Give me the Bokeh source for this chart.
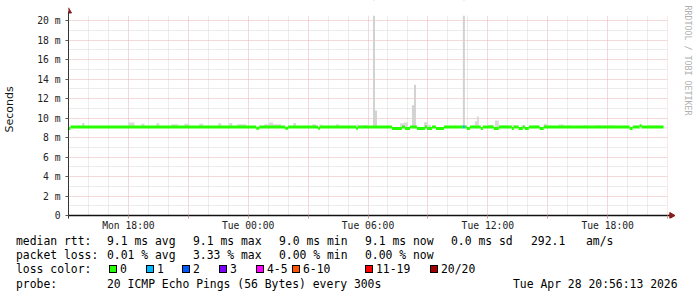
import math
from bokeh.plotting import figure
from bokeh.layouts import column
from bokeh.models import FixedTicker, Range1d, ColumnDataSource, Div
from bokeh.core.properties import value
from bokeh.embed import file_html
from bokeh.resources import INLINE

# ---------------- data (time in hours since Mon 00:00, rtt in ms) ----------------
x_start, x_end = 15.0, 45.0     # graphed period (Mon 15:00 .. Tue 21:00)
y_top = 20.5                    # upper limit of the graph (ms)

y_ticks = [0, 2, 4, 6, 8, 10, 12, 14, 16, 18, 20]
y_minor = [1, 3, 5, 7, 9, 11, 13, 15, 17, 19]
y_tick_labels = ["0", "2 m", "4 m", "6 m", "8 m", "10 m", "12 m", "14 m", "16 m", "18 m", "20 m"]

x_major = [15, 18, 21, 24, 27, 30, 33, 36, 39, 42, 45]
x_minor = [16, 17, 19, 20, 22, 23, 25, 26, 28, 29, 31, 32, 34, 35, 37, 38, 40, 41, 43, 44]
x_label_hours = [18, 24, 30, 36, 42]
x_labels = ["Mon 18:00", "Tue 00:00", "Tue 06:00", "Tue 12:00", "Tue 18:00"]

# median rtt as constant segments between breakpoints
med_breaks = [15.0, 15.1, 24.4, 24.55, 25.85, 26.0, 27.5, 27.6, 29.4, 29.5, 31.2, 31.7,
              31.85, 32.1, 32.45, 32.85, 32.95, 33.2, 33.4, 33.8, 34.75, 34.85, 34.95,
              35.1, 35.65, 35.75, 36.3, 36.55, 37.2, 37.3, 37.55, 37.75, 37.85, 38.05,
              38.6, 38.8, 43.1, 43.25, 43.6, 43.7, 44.8]
med_ms = [8.93, 9.08, 8.95, 9.08, 8.95, 9.08, 8.95, 9.08, 8.95, 9.08, 8.93, 9.08,
          8.93, 9.08, 8.93, 9.08, 8.93, 9.08, 8.93, 9.08, 9.08, 9.08, 8.93,
          9.08, 8.93, 9.08, 8.93, 9.08, 8.93, 9.08, 8.93, 9.08, 8.93, 9.08,
          8.93, 9.08, 8.93, 9.08, 9.2, 9.08]
med_loss = [0] * 20 + [1] + [0] * 19

# smoke (spread of the pings) as blocks above the median
smoke_start = [15.68, 18.0, 18.65, 19.4, 20.15, 20.8, 21.55, 22.5, 23.05, 23.45, 24.8, 25.05,
               26.25, 27.2, 27.55, 28.4, 29.4, 29.65, 31.6, 31.8, 32.8, 33.0, 33.95, 34.65,
               35.35, 35.45, 36.0, 36.35, 36.55, 37.15, 37.65, 38.25, 38.8, 39.0, 39.55,
               40.0, 40.8, 41.35, 41.8, 43.55, 44.0]
smoke_end = [15.8, 18.3, 18.8, 19.55, 20.5, 21.05, 21.75, 22.65, 23.2, 23.9, 25.65, 25.25,
             26.4, 27.4, 27.7, 28.55, 29.55, 30.0, 32.0, 32.0, 33.0, 33.15, 34.15, 34.8,
             35.5, 35.55, 36.25, 36.55, 37.0, 37.4, 37.9, 38.5, 38.95, 39.2, 39.8,
             40.15, 41.0, 41.7, 42.35, 43.75, 44.55]
smoke_top = [9.48, 9.55, 9.4, 9.45, 9.35, 9.4, 9.4, 9.45, 9.5, 9.35, 9.35, 9.55,
             9.5, 9.35, 9.3, 9.35, 9.3, 9.25, 9.46, 9.55, 9.56, 9.3, 9.2, 9.25,
             9.67, 10.15, 9.3, 9.74, 9.22, 9.22, 9.22, 9.22, 9.4, 9.22, 9.33,
             9.22, 9.22, 9.22, 9.22, 9.22, 9.22]
smoke_base = 9.0

# single-ping outliers
spike_hour = [30.3, 30.4, 32.25, 32.35, 34.8]
spike_ms = [25.0, 10.77, 11.3, 13.4, 25.0]

loss_levels = ["0", "1", "2", "3", "4-5", "6-10", "11-19", "20/20"]
loss_colors = ["#26ff00", "#00b8ff", "#0059ff", "#7e00ff", "#ff00ff", "#ff5500", "#ff0000", "#a10000"]

rtt_stats = ["9.1 ms avg", "9.1 ms max", "9.0 ms min", "9.1 ms now", "0.0 ms sd", "292.1", "am/s"]
loss_stats = ["0.01 % avg", "3.33 % max", "0.00 % min", "0.00 % now"]
probe_text = "20 ICMP Echo Pings (56 Bytes) every 300s"
stamp_text = "Tue Apr 28 20:56:13 2026"
watermark = "RRDTOOL / TOBI OETIKER"

MONO = "DejaVu Sans Mono"

# ---------------- main graph ----------------
px_per_ms = 9.75
px_per_hour = 20.0
y_lo = -3 / px_per_ms            # small margin under the time axis for tick marks
y_hi = 215 / px_per_ms           # frame reaches the top of the page
x_hi = x_end + 30 / px_per_hour  # frame reaches the right edge of the page

p = figure(width=697, height=233, output_backend="svg", toolbar_location=None,
           x_range=Range1d(x_start, x_hi), y_range=Range1d(y_lo, y_hi),
           min_border_left=67, min_border_right=0, min_border_top=0, min_border_bottom=15)
p.outline_line_color = None
p.background_fill_color = "white"
p.border_fill_color = "white"

# grids
p.xgrid.ticker = FixedTicker(ticks=x_major, minor_ticks=x_minor)
p.ygrid.ticker = FixedTicker(ticks=y_ticks, minor_ticks=y_minor)
for g in (p.xgrid, p.ygrid):
    g.grid_line_color = "#e6b2b2"
    g.grid_line_dash = "1 1"
    g.grid_line_width = 1
    g.minor_grid_line_color = "#d8d8d8"
    g.minor_grid_line_dash = "1 1"
    g.minor_grid_line_width = 1

# axes
p.yaxis.ticker = FixedTicker(ticks=y_ticks, minor_ticks=[])
p.yaxis.major_label_overrides = {t: l for t, l in zip(y_ticks, y_tick_labels)}
p.yaxis.bounds = (y_lo, 20.9)
p.xaxis.ticker = FixedTicker(ticks=x_major, minor_ticks=[])
p.xaxis.major_label_overrides = {t: (x_labels[x_label_hours.index(t)] if t in x_label_hours else "")
                                 for t in x_major}
for ax in (p.xaxis, p.yaxis):
    ax.major_label_text_font = MONO
    ax.major_label_text_font_size = "9.7px"
    ax.major_label_text_color = "#222222"
    ax.minor_tick_out = 0
    ax.minor_tick_in = 0
p.yaxis.major_tick_out = 3
p.yaxis.major_tick_in = 0
p.yaxis.major_tick_line_color = "#555555"
p.yaxis.axis_line_color = "#333333"
p.yaxis.major_label_standoff = 5
p.xaxis.axis_line_color = None
p.xaxis.major_tick_out = 0
p.xaxis.major_tick_in = 3
p.xaxis.major_tick_line_color = "#c99a9a"
p.xaxis.major_label_standoff = 1
p.yaxis.axis_label = "Seconds"
p.yaxis.axis_label_text_font = "DejaVu Sans"
p.yaxis.axis_label_text_font_size = "11px"
p.yaxis.axis_label_text_font_style = "normal"
p.yaxis.axis_label_text_color = "#111111"
p.yaxis.axis_label_standoff = 18

# smoke
p.quad(left=smoke_start, right=smoke_end, bottom=[smoke_base] * len(smoke_start), top=smoke_top,
       fill_color="#dadada", line_color=None)
p.segment(x0=spike_hour, y0=[smoke_base] * len(spike_hour), x1=spike_hour, y1=spike_ms,
          line_color="#d2d2d2", line_width=2)

# median line coloured by loss
med_src = ColumnDataSource(dict(
    x0=med_breaks[:-1], x1=med_breaks[1:], y=med_ms,
    c=[loss_colors[l] for l in med_loss]))
p.segment(x0="x0", y0="y", x1="x1", y1="y", line_color="c", line_width=3, source=med_src,
          line_cap="butt")

# keep the graph area limited to [x_start, x_end] x [0, y_top]
p.quad(left=[x_start], right=[x_hi], bottom=[y_top], top=[y_hi], fill_color="white", line_color=None)
p.quad(left=[x_end], right=[x_hi], bottom=[y_lo], top=[y_hi], fill_color="white", line_color=None)
p.quad(left=[x_start], right=[x_hi], bottom=[y_lo], top=[0], fill_color="white", line_color=None)

# time axis line and arrow heads
p.segment(x0=[x_start], y0=[0], x1=[x_end + 0.15], y1=[0], line_color="#111111", line_width=1.5)
arrow_col = "#8b1a1a"
p.scatter(x=[x_end + 0.2], y=[0], marker="triangle", size=6, angle=-math.pi / 2,
          fill_color=arrow_col, line_color=arrow_col)
p.scatter(x=[x_start], y=[20.95], marker="triangle", size=6,
          fill_color=arrow_col, line_color=arrow_col)

# watermark on the right side, reading downwards
p.text(x=[x_end + 1.0], y=[y_hi - 5 / px_per_ms], text=[watermark], angle=-math.pi / 2,
       text_font=value(MONO), text_font_size="8.3px", text_color="#b0b0b0",
       text_align="left", text_baseline="middle")

# ---------------- legend block (monospace text) ----------------
FONT_CSS = "font-family:'DejaVu Sans Mono';font-size:11.4px;line-height:14px;color:#000;white-space:pre;"
row_top = [1, 15, 28.5, 43.5]   # px from the top of the legend block (line box 14px)
pieces = []

def put(x, row, s):
    pieces.append('<span style="position:absolute;left:%spx;top:%spx;">%s</span>' % (x, row_top[row], s))

put(16, 0, "median rtt:")
for xp, s in zip([107, 193, 279, 365, 451, 531, 586], rtt_stats):
    put(xp, 0, s)
put(16, 1, "packet loss:")
for xp, s in zip([107, 193, 279, 365], loss_stats):
    put(xp, 1, s)
put(16, 2, "loss color:")
box_x = [109, 146, 182, 219, 256, 292, 365, 430]
for xp, s, c in zip(box_x, loss_levels, loss_colors):
    pieces.append('<span style="position:absolute;box-sizing:border-box;left:%spx;top:%spx;'
                  'width:8px;height:8px;background:%s;border:1px solid #000;"></span>'
                  % (xp, 32, c))
    put(xp + 11, 2, s)
put(16, 3, "probe:")
put(107, 3, probe_text)
put(513, 3, stamp_text)

html = ('<div style="position:relative;width:697px;height:64px;background:#fff;%s">%s</div>'
        % (FONT_CSS, "".join(pieces)))
legend_block = Div(text=html, width=697, height=64, margin=(0, 0, 0, 0))

layout = column(p, legend_block, spacing=0)
open("out.html", "w").write(file_html(layout, INLINE))
